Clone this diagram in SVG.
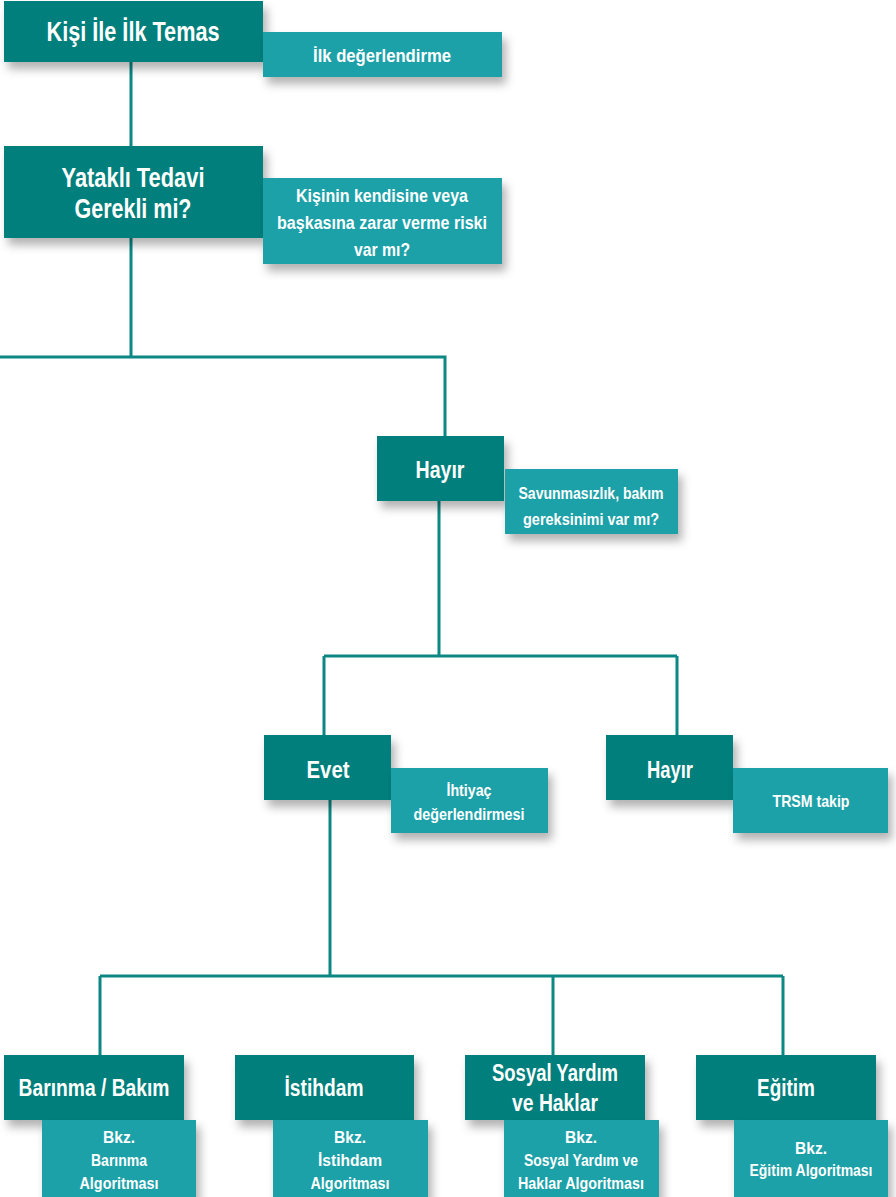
<svg xmlns="http://www.w3.org/2000/svg" width="896" height="1197" viewBox="0 0 896 1197">
<defs>
<filter id="sh" x="-20%" y="-20%" width="150%" height="160%">
<feDropShadow dx="4" dy="7" stdDeviation="5" flood-color="#000" flood-opacity="0.3"/>
</filter>
<style>
.d{fill:#037f7c;filter:url(#sh)}
.l{fill:#1ea1a8;filter:url(#sh)}
.t{font-family:"Liberation Sans Narrow","Liberation Sans",sans-serif;font-weight:bold;fill:#fff;text-anchor:middle;dominant-baseline:central}
.big{font-size:27px}
.mid{font-size:19px}
.sm{font-size:17px}
.xs{font-size:16px}
.h{font-size:23px}
.c{stroke:#0b8784;stroke-width:3;fill:none}
</style>
</defs>
<g id="connectors">
<path class="c" d="M131 62V146M131 238V357M0 357H445V436M439 501V656M324 656H677M324 656V735M677 656V735M330 800V976M100 976H783M100 976V1055M553 976V1055M783 976V1055"/>
</g>
<g id="n1">
<rect class="d" x="4" y="1" width="259" height="61"/>
<text class="t big" x="133" y="32" textLength="173" lengthAdjust="spacingAndGlyphs">Kişi İle İlk Temas</text>
</g>
<g id="n1b">
<rect class="l" x="263" y="32" width="239" height="45"/>
<text class="t mid" x="382" y="55" textLength="138" lengthAdjust="spacingAndGlyphs">İlk değerlendirme</text>
</g>
<g id="n2">
<rect class="d" x="4" y="146" width="259" height="92"/>
<text class="t big" x="133" y="178" textLength="143" lengthAdjust="spacingAndGlyphs">Yataklı Tedavi</text>
<text class="t big" x="133" y="209" textLength="117" lengthAdjust="spacingAndGlyphs">Gerekli mi?</text>
</g>
<g id="n2b">
<rect class="l" x="263" y="178" width="239" height="86"/>
<text class="t mid" x="382" y="195" textLength="172" lengthAdjust="spacingAndGlyphs">Kişinin kendisine veya</text>
<text class="t mid" x="382" y="222" textLength="210" lengthAdjust="spacingAndGlyphs">başkasına zarar verme riski</text>
<text class="t mid" x="382" y="249" textLength="56" lengthAdjust="spacingAndGlyphs">var mı?</text>
</g>
<g id="n3">
<rect class="d" x="377" y="436" width="127" height="65"/>
<text class="t h" x="440" y="470" textLength="49" lengthAdjust="spacingAndGlyphs">Hayır</text>
</g>
<g id="n3b">
<rect class="l" x="505" y="469" width="173" height="65"/>
<text class="t sm" x="591" y="493" textLength="145" lengthAdjust="spacingAndGlyphs">Savunmasızlık, bakım</text>
<text class="t sm" x="591" y="519" textLength="136" lengthAdjust="spacingAndGlyphs">gereksinimi var mı?</text>
</g>
<g id="n4">
<rect class="d" x="264" y="735" width="127" height="65"/>
<text class="t h" x="328" y="770" textLength="43" lengthAdjust="spacingAndGlyphs">Evet</text>
</g>
<g id="n4b">
<rect class="l" x="391" y="768" width="157" height="65"/>
<text class="t sm" x="469" y="790" textLength="45" lengthAdjust="spacingAndGlyphs">İhtiyaç</text>
<text class="t sm" x="469" y="814" textLength="111" lengthAdjust="spacingAndGlyphs">değerlendirmesi</text>
</g>
<g id="n5">
<rect class="d" x="606" y="735" width="127" height="65"/>
<text class="t h" x="670" y="770" textLength="46" lengthAdjust="spacingAndGlyphs">Hayır</text>
</g>
<g id="n5b">
<rect class="l" x="733" y="768" width="155" height="65"/>
<text class="t sm" x="811" y="801" textLength="77" lengthAdjust="spacingAndGlyphs">TRSM takip</text>
</g>
<g id="b1">
<rect class="d" x="4" y="1055" width="180" height="65"/>
<text class="t h" x="94" y="1088" textLength="151" lengthAdjust="spacingAndGlyphs">Barınma / Bakım</text>
</g>
<g id="b1b">
<rect class="l" x="42" y="1120" width="154" height="80"/>
<text class="t xs" x="119" y="1137" textLength="32" lengthAdjust="spacingAndGlyphs">Bkz.</text>
<text class="t xs" x="119" y="1160" textLength="56" lengthAdjust="spacingAndGlyphs">Barınma</text>
<text class="t xs" x="119" y="1183" textLength="79" lengthAdjust="spacingAndGlyphs">Algoritması</text>
</g>
<g id="b2">
<rect class="d" x="235" y="1055" width="179" height="65"/>
<text class="t h" x="324" y="1088" textLength="79" lengthAdjust="spacingAndGlyphs">İstihdam</text>
</g>
<g id="b2b">
<rect class="l" x="273" y="1120" width="155" height="80"/>
<text class="t xs" x="350" y="1137" textLength="32" lengthAdjust="spacingAndGlyphs">Bkz.</text>
<text class="t xs" x="350" y="1160" textLength="64" lengthAdjust="spacingAndGlyphs">İstihdam</text>
<text class="t xs" x="350" y="1183" textLength="79" lengthAdjust="spacingAndGlyphs">Algoritması</text>
</g>
<g id="b3">
<rect class="d" x="465" y="1055" width="180" height="65"/>
<text class="t h" x="555" y="1073" textLength="126" lengthAdjust="spacingAndGlyphs">Sosyal Yardım</text>
<text class="t h" x="555" y="1103" textLength="86" lengthAdjust="spacingAndGlyphs">ve Haklar</text>
</g>
<g id="b3b">
<rect class="l" x="504" y="1120" width="155" height="80"/>
<text class="t xs" x="581" y="1137" textLength="32" lengthAdjust="spacingAndGlyphs">Bkz.</text>
<text class="t xs" x="581" y="1160" textLength="114" lengthAdjust="spacingAndGlyphs">Sosyal Yardım ve</text>
<text class="t xs" x="581" y="1183" textLength="126" lengthAdjust="spacingAndGlyphs">Haklar Algoritması</text>
</g>
<g id="b4">
<rect class="d" x="696" y="1055" width="180" height="65"/>
<text class="t h" x="786" y="1088" textLength="58" lengthAdjust="spacingAndGlyphs">Eğitim</text>
</g>
<g id="b4b">
<rect class="l" x="734" y="1120" width="154" height="80"/>
<text class="t xs" x="811" y="1148" textLength="32" lengthAdjust="spacingAndGlyphs">Bkz.</text>
<text class="t xs" x="811" y="1170" textLength="123" lengthAdjust="spacingAndGlyphs">Eğitim Algoritması</text>
</g>
</svg>
